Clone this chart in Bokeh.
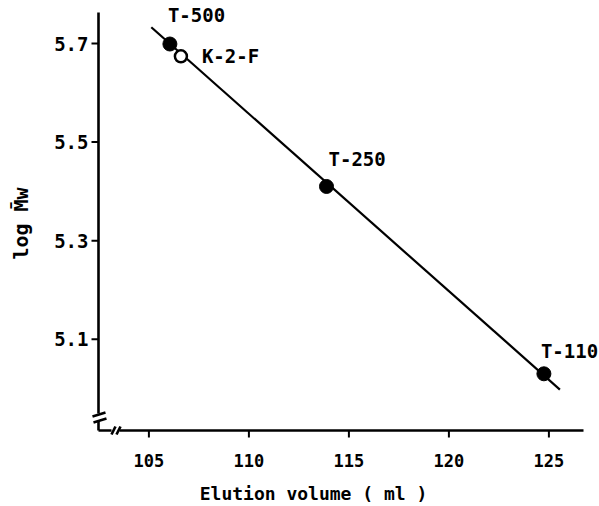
import math
from bokeh.plotting import figure
from bokeh.models import ColumnDataSource, LabelSet, Label, FixedTicker, Range1d
from bokeh.core.properties import value
from bokeh.embed import file_html
from bokeh.resources import INLINE

# ---- data ----
std_names = ["T-500", "T-250", "T-110"]
std_volume = [106.05, 113.88, 124.75]
std_logmw = [5.699, 5.410, 5.030]

sample_names = ["K-2-F"]
sample_volume = [106.6]
sample_logmw = [5.674]

fit_volume = [105.12, 125.55]
fit_logmw = [5.733, 4.998]

x_ticks = [105, 110, 115, 120, 125]
y_ticks = [5.1, 5.3, 5.5, 5.7]

x_title = "Elution volume ( ml )"
y_title = "log M\u0304w"

# ---- layout (pixels of the frame) ----
W, H = 599, 506
FL, FT, FR, FB = 89, 6, 599, 440
FW, FH = FR - FL, FB - FT
x_start, x_end = 102.03, 127.53
y_start, y_end = 4.8947, 5.7751


def sx(px):
    return x_start + (px - FL) * (x_end - x_start) / FW


def sy(py):
    return y_end - (py - FT) * (y_end - y_start) / FH


FONT = "DejaVu Sans Mono"
STYLE = "bold"

p = figure(width=W, height=H, output_backend="svg", toolbar_location=None,
           x_range=Range1d(x_start, x_end), y_range=Range1d(y_start, y_end),
           min_border_left=FL, min_border_right=W - FR,
           min_border_top=FT, min_border_bottom=H - FB)
p.outline_line_color = None
p.grid.visible = False
p.background_fill_color = "white"
p.border_fill_color = "white"

for ax in (p.xaxis[0], p.yaxis[0]):
    ax.axis_line_color = None
    ax.minor_tick_line_color = None
    ax.major_tick_line_color = None
    ax.major_tick_in = 0
    ax.major_tick_out = 0
    ax.major_label_text_font = FONT
    ax.major_label_text_font_style = STYLE
    ax.major_label_text_color = "black"
    ax.axis_label_text_font = FONT
    ax.axis_label_text_font_style = STYLE
    ax.axis_label_text_color = "black"

p.xaxis[0].ticker = FixedTicker(ticks=x_ticks)
p.yaxis[0].ticker = FixedTicker(ticks=y_ticks)
p.xaxis[0].major_label_text_font_size = "17px"
p.yaxis[0].major_label_text_font_size = "19px"
p.xaxis[0].major_label_standoff = 13
p.yaxis[0].major_label_standoff = 1
p.yaxis[0].axis_label = y_title
p.yaxis[0].axis_label_text_font_size = "20px"
p.yaxis[0].axis_label_standoff = 18

# x-axis title, centred under the drawn axis as in the original
p.add_layout(Label(x=sx(313), y=sy(493), text=x_title, text_font=FONT,
                   text_font_style=STYLE, text_font_size="18px", text_color="black",
                   text_align="center", text_baseline="middle"), "below")

# drawn axis lines with breaks (decoration, pixel positions)
AX, AY = 98, 430
axis_px = [
    (AX, 12, AX, 413),
    (92, 416, 105, 412),
    (93, 422, 106, 418),
    (AX, 421, AX, AY),
    (AX, AY, 111, AY),
    (111, 434, 115, 426),
    (116, 434, 120, 426),
    (119, AY, 583, AY),
]
p.segment([sx(a[0]) for a in axis_px], [sy(a[1]) for a in axis_px],
          [sx(a[2]) for a in axis_px], [sy(a[3]) for a in axis_px],
          line_color="black", line_width=2.6)

# tick marks at the tick values
p.segment([sx(AX - 7)] * len(y_ticks), y_ticks, [sx(AX)] * len(y_ticks), y_ticks,
          line_color="black", line_width=2)
p.segment(x_ticks, [sy(AY)] * len(x_ticks), x_ticks, [sy(AY + 7)] * len(x_ticks),
          line_color="black", line_width=2)

# fit line
p.line(fit_volume, fit_logmw, line_color="black", line_width=2.2)

# standards (filled) and sample (open)
p.scatter(std_volume, std_logmw, size=14, fill_color="black", line_color="black")
p.scatter(sample_volume, sample_logmw, size=12, fill_color="white",
          line_color="black", line_width=2.5)

# point labels
label_dx = [-2, 2, -3]
label_dy = [29, 27, 23]
src = ColumnDataSource(dict(x=std_volume, y=std_logmw, t=std_names,
                            dx=label_dx, dy=label_dy))
p.add_layout(LabelSet(source=src, x="x", y="y", text="t", x_offset="dx", y_offset="dy",
                      text_font=value(FONT), text_font_style=value(STYLE),
                      text_font_size=value("19px"),
                      text_color="black", text_align="left", text_baseline="middle"))
src2 = ColumnDataSource(dict(x=sample_volume, y=sample_logmw, t=sample_names,
                             dx=[21], dy=[0]))
p.add_layout(LabelSet(source=src2, x="x", y="y", text="t", x_offset="dx", y_offset="dy",
                      text_font=value(FONT), text_font_style=value(STYLE),
                      text_font_size=value("19px"),
                      text_color="black", text_align="left", text_baseline="middle"))

open("out.html", "w").write(file_html(p, INLINE))
